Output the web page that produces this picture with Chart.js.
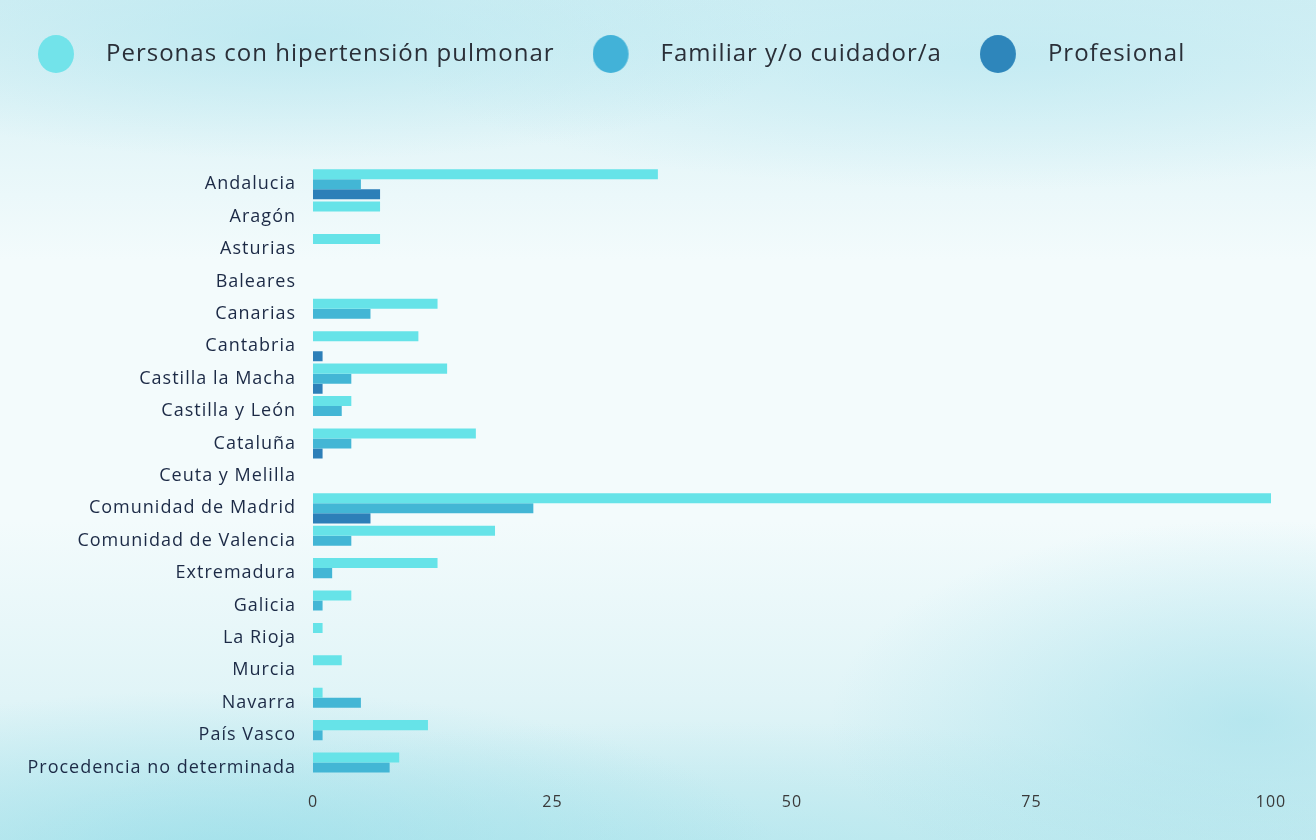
<!DOCTYPE html>
<html>
<head>
<meta charset="utf-8">
<script src="https://cdn.jsdelivr.net/npm/chart.js@4.4.1/dist/chart.umd.min.js"></script>
<style>
  html, body { margin: 0; padding: 0; }
  body {
    width: 1316px; height: 840px; overflow: hidden;
    background:
      radial-gradient(ellipse 420px 200px at 1250px 720px, rgba(150,220,232,0.55), rgba(150,220,232,0) 100%),
      radial-gradient(ellipse 560px 170px at 220px 860px, rgba(145,220,232,0.65), rgba(145,220,232,0) 100%),
      radial-gradient(ellipse 700px 140px at 700px 860px, rgba(170,228,236,0.55), rgba(170,228,236,0) 100%),
      radial-gradient(ellipse 500px 120px at 300px 40px, rgba(175,228,238,0.6), rgba(175,228,238,0) 100%),
      radial-gradient(ellipse 600px 130px at 1000px 60px, rgba(180,230,240,0.55), rgba(180,230,240,0) 100%),
      linear-gradient(180deg, #d2eff4 0px, #e3f5f8 130px, #f3fbfc 260px, #f3fbfc 520px, #e0f4f7 700px, #c9ecf1 840px);
  }
  #wrap { position: absolute; left: 0; top: 0; width: 1316px; height: 840px; }
</style>
</head>
<body>
<div id="wrap"><canvas id="chart"></canvas></div>
<script>
// Data
const regions = ['Andalucia', 'Aragón', 'Asturias', 'Baleares', 'Canarias', 'Cantabria',
  'Castilla la Macha', 'Castilla y León', 'Cataluña', 'Ceuta y Melilla', 'Comunidad de Madrid',
  'Comunidad de Valencia', 'Extremadura', 'Galicia', 'La Rioja', 'Murcia', 'Navarra',
  'País Vasco', 'Procedencia no determinada'];
const seriesNames = ['Personas con hipertensión pulmonar', 'Familiar y/o cuidador/a', 'Profesional'];
const pacientes = [36, 7, 7, 0, 13, 11, 14, 4, 17, 0, 100, 19, 13, 4, 1, 3, 1, 12, 9];
const familiares = [5, 0, 0, 0, 6, 0, 4, 3, 4, 0, 23, 4, 2, 1, 0, 0, 5, 1, 8];
const profesionales = [7, 0, 0, 0, 0, 1, 1, 0, 1, 0, 6, 0, 0, 0, 0, 0, 0, 0, 0];
const xTicks = [0, 25, 50, 75, 100];

const barColors = ['#66e3e8', '#43b6d5', '#2d7fb8'];
const dotColors = ['#72e3ea', '#42b2d8', '#2e86bb'];

// legend dots: circle on the left, empty space on the right for the text gap
function makeDot(color) {
  const c = document.createElement('canvas');
  c.width = 56; c.height = 40;
  const g = c.getContext('2d');
  g.fillStyle = color;
  g.beginPath();
  g.ellipse(18, 20, 18, 19, 0, 0, Math.PI * 2);
  g.fill();
  return c;
}
const dots = dotColors.map(makeDot);

// stretch the legend box so the plot starts lower
const legendHeight = {
  id: 'legendHeight',
  beforeUpdate(chart) {
    const lg = chart.legend;
    if (lg && !lg._patched) {
      const fit = lg.fit;
      lg.fit = function () {
        fit.call(this);
        this.height = 164;
      };
      lg._patched = true;
    }
  }
};

// the reference text is spaced out a bit; canvas resizes wipe this, so set it again each pass
const spacing = {
  id: 'spacing',
  beforeUpdate(chart) { chart.ctx.letterSpacing = '1px'; },
  beforeLayout(chart) { chart.ctx.letterSpacing = '1px'; },
  beforeDraw(chart) { chart.ctx.letterSpacing = '1px'; }
};

const ctx = document.getElementById('chart').getContext('2d');
const chart = new Chart(ctx, {
  type: 'bar',
  data: {
    labels: regions,
    datasets: [
      { label: seriesNames[0], data: pacientes, backgroundColor: barColors[0] },
      { label: seriesNames[1], data: familiares, backgroundColor: barColors[1] },
      { label: seriesNames[2], data: profesionales, backgroundColor: barColors[2] }
    ]
  },
  options: {
    indexAxis: 'y',
    responsive: true,
    maintainAspectRatio: false,
    animation: false,
    datasets: {
      bar: { categoryPercentage: 0.93, barPercentage: 1.0 }
    },
    layout: { padding: { top: 4, left: 0, right: 45, bottom: 19 } },
    plugins: {
      tooltip: { enabled: false },
      legend: {
        position: 'top',
        align: 'start',
        labels: {
          usePointStyle: true,
          pointStyleWidth: 56,
          padding: 38,
          color: '#2a2f38',
          font: { family: 'Open Sans', size: 24 },
          generateLabels(chart) {
            const items = Chart.defaults.plugins.legend.labels.generateLabels(chart);
            items.forEach((it, i) => { it.pointStyle = dots[i]; });
            return items;
          }
        }
      }
    },
    scales: {
      x: {
        min: 0,
        max: 100,
        afterBuildTicks(scale) { scale.ticks = xTicks.map(v => ({ value: v })); },
        grid: { display: false, drawTicks: false },
        border: { display: false },
        ticks: { padding: 9, color: '#3a3a3a', font: { family: 'Open Sans', size: 16 } }
      },
      y: {
        grid: { display: false, drawTicks: false },
        border: { display: false },
        afterFit(scale) { scale.width = 313; },
        ticks: { padding: 17, color: '#1c2a46', font: { family: 'Open Sans', size: 18 } }
      }
    }
  },
  plugins: [legendHeight, spacing]
});
</script>
</body>
</html>
